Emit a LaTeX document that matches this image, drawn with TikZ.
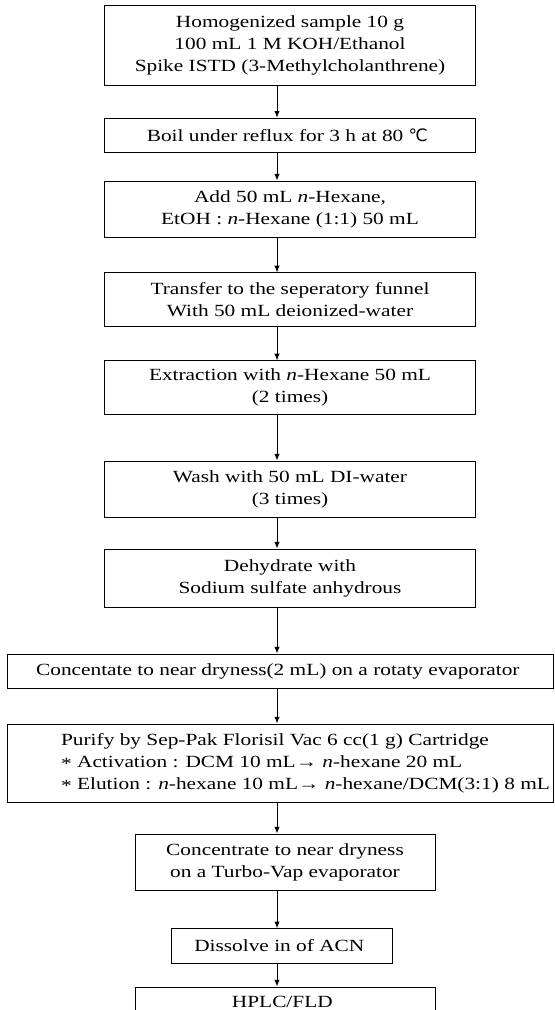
\documentclass[tikz,border=0pt]{standalone}
\usepackage{fontspec}
\setmainfont{Liberation Serif}[FakeStretch=1.25]
\newfontfamily\symbfont{DejaVu Sans}
\usetikzlibrary{arrows.meta}

\newcommand{\nhex}{\textit{n}-}
\newcommand{\bul}{\raisebox{-0.25ex}{*}}

\begin{document}
\begin{tikzpicture}[x=0.75pt, y=-0.75pt,
  stepbox/.style={draw, line width=0.7pt, align=center, inner sep=2pt,
                  font=\fontsize{12.8}{16.5}\selectfont},
  narrow/.style={stepbox, minimum width=278pt},
  wide/.style={stepbox, minimum width=409pt},
  mid/.style={stepbox, minimum width=225pt},
  flow/.style={-{Latex[length=5pt,width=4pt]}, line width=0.7pt},
]
\useasboundingbox (0,0) rectangle (555,1010);

\node[narrow, minimum height=60pt] (sample) at (290,45) {
  Homogenized sample 10 g\\
  100 mL 1 M KOH/Ethanol\\
  Spike ISTD (3-Methylcholanthrene)
};
\node[narrow, minimum height=26pt] (reflux) at (290,135.5) {
  Boil under reflux for 3 h at 80 {\symbfont ℃}
};
\node[narrow, minimum height=42pt] (hexane) at (290,209) {
  Add 50 mL \nhex Hexane,\\
  EtOH : \nhex Hexane (1:1) 50 mL
};
\node[narrow, minimum height=40pt] (funnel) at (290,299.5) {
  Transfer to the seperatory funnel\\
  With 50 mL deionized-water
};
\node[narrow, minimum height=40pt] (extract) at (290,387.5) {
  Extraction with \nhex Hexane 50 mL\\
  (2 times)
};
\node[narrow, minimum height=42pt] (wash) at (290,489) {
  Wash with 50 mL DI-water\\
  (3 times)
};
\node[narrow, minimum height=43.5pt] (dehyd) at (290,578) {
  Dehydrate with\\
  Sodium sulfate anhydrous
};
\node[wide, minimum height=25.5pt] (rotary) at (280.5,671) {
  Concentate to near dryness(2 mL) on a rotaty evaporator
};
\node[wide, minimum height=58.5pt, align=left] (florisil) at (280.5,763) {
  \hspace*{37.5pt}Purify by Sep-Pak Florisil Vac 6 cc(1 g) Cartridge\\
  \hspace*{37.5pt}\bul{} Activation : DCM 10 mL\textrightarrow{} \nhex hexane 20 mL\\
  \hspace*{37.5pt}\bul{} Elution : \nhex hexane 10 mL\textrightarrow{} \nhex hexane/DCM(3:1) 8 mL
};
\node[mid, minimum height=42pt] (turbo) at (285,862) {
  Concentrate to near dryness\\
  on a Turbo-Vap evaporator
};
\node[stepbox, minimum width=166pt, minimum height=26pt] (dissolve) at (282,946) {
  Dissolve in of ACN
};
\node[mid, minimum height=30pt, text depth=8pt] (hplc) at (285,1007) {
  HPLC/FLD
};

\coordinate (axis) at (277,0);
\foreach \a/\b in {sample/reflux, reflux/hexane, hexane/funnel, funnel/extract,
                   extract/wash, wash/dehyd, dehyd/rotary, rotary/florisil,
                   florisil/turbo, turbo/dissolve, dissolve/hplc}
  \draw[flow] (\a.south -| axis) -- (\b.north -| axis);
\end{tikzpicture}
\end{document}
